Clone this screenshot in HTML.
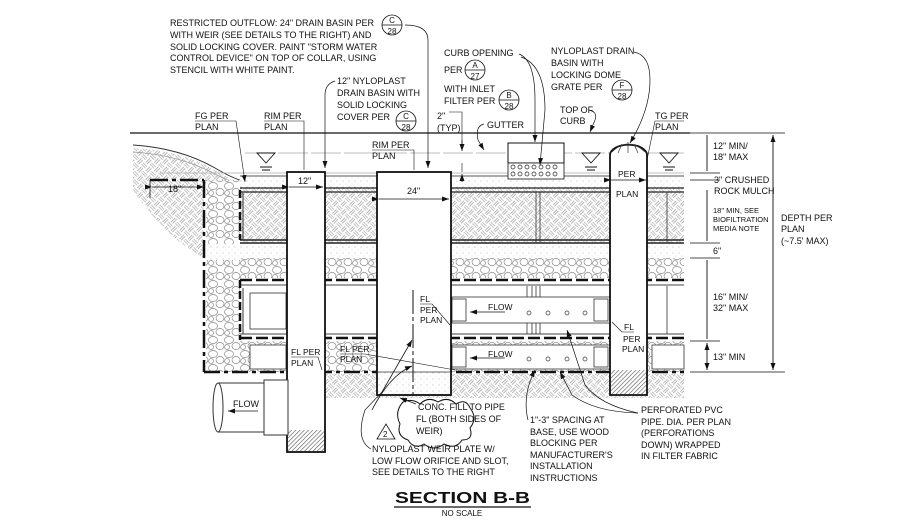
<!DOCTYPE html>
<html><head><meta charset="utf-8"><style>
html,body{margin:0;padding:0;background:#fff;}
svg{display:block;}
text{font-family:"Liberation Sans",sans-serif;fill:#111;}
</style></head><body>
<svg width="924" height="520" viewBox="0 0 924 520" xmlns="http://www.w3.org/2000/svg" font-size="9">
<defs>
<pattern id="weave" width="12" height="12" patternUnits="userSpaceOnUse" patternTransform="rotate(45)">
<rect width="12" height="12" fill="#fff"/>
<path d="M0 2H6M0 4H6M6 8H12M6 10H12M8 0V6M10 0V6M2 6V12M4 6V12" stroke="#888" stroke-width="0.6"/>
</pattern>
<pattern id="rock" width="16" height="14" patternUnits="userSpaceOnUse">
<rect width="16" height="14" fill="#fff"/>
<ellipse cx="5" cy="4" rx="4.5" ry="3.5" fill="none" stroke="#888" stroke-width="0.7"/>
<ellipse cx="12" cy="10" rx="4" ry="3.5" fill="none" stroke="#888" stroke-width="0.7"/>
<ellipse cx="3" cy="11" rx="2.5" ry="2.5" fill="none" stroke="#888" stroke-width="0.7"/>
</pattern>
<pattern id="dots" width="6" height="6" patternUnits="userSpaceOnUse">
<rect width="6" height="6" fill="#fff"/>
<circle cx="1" cy="1" r="0.5" fill="#999"/><circle cx="4" cy="4" r="0.4" fill="#aaa"/>
</pattern>
<pattern id="hatch" width="3" height="3" patternUnits="userSpaceOnUse" patternTransform="rotate(45)">
<rect width="3" height="3" fill="#fff"/><path d="M0 0V3" stroke="#555" stroke-width="1.2"/>
</pattern>
<marker id="ar" markerWidth="8" markerHeight="8" refX="7" refY="4" orient="auto" markerUnits="userSpaceOnUse"><path d="M0 1.5L7 4L0 6.5Z" fill="#111"/></marker>
</defs>

<!-- left native soil -->
<path d="M133 148 Q180 150 215 170 Q235 182 245 186 L240 186 L204 186 L204 258 Q170 240 140 200 L133 190Z" fill="url(#weave)"/>
<path d="M133 145 Q180 148 215 168 Q235 180 250 183" fill="none" stroke="#333" stroke-width="1"/>
<path d="M133 152 Q180 155 215 174 Q235 184 245 188" fill="none" stroke="#999" stroke-width="0.8"/>
<rect x="206" y="180" width="34" height="192" fill="url(#rock)"/>
<rect x="240" y="176" width="444" height="12" fill="url(#dots)"/>
<path d="M240 176H684" stroke="#555" stroke-width="1"/>
<rect x="240" y="188" width="444" height="55" fill="url(#weave)"/>
<path d="M240 188H684M240 192H684" stroke="#222" stroke-width="1.2"/>
<path d="M240 240H684M240 243H684" stroke="#222" stroke-width="1.5"/>
<rect x="206" y="244" width="478" height="16" fill="url(#dots)"/>
<rect x="240" y="258" width="444" height="20" fill="url(#rock)"/>
<path d="M240 280H684" stroke="#111" stroke-width="2.5" stroke-dasharray="12 4"/>
<path d="M240 285H684" stroke="#444" stroke-width="1"/>
<rect x="240" y="286" width="444" height="48" fill="#fff"/>
<path d="M240 334H684" stroke="#444" stroke-width="1"/>
<path d="M240 338H684" stroke="#111" stroke-width="2.5" stroke-dasharray="12 4"/>
<rect x="240" y="341" width="444" height="31" fill="url(#rock)"/>
<path d="M204 372H684" stroke="#111" stroke-width="2.5" stroke-dasharray="16 4 4 4"/>
<rect x="290" y="374" width="394" height="24" fill="url(#weave)"/>
<path d="M204 180V372" stroke="#111" stroke-width="2.5" stroke-dasharray="18 4 4 4"/>
<path d="M150 180H204" stroke="#111" stroke-width="2.5" stroke-dasharray="18 4 4 4"/>
<path d="M240 190V240M240 280V340" stroke="#111" stroke-width="2.5" stroke-dasharray="8 3"/>
<path d="M243 193V240M243 288V334" stroke="#333" stroke-width="1"/>
<path d="M152 187H204" stroke="#111" stroke-width="0.8" marker-start="url(#ar)" marker-end="url(#ar)"/>
<path d="M150 180V198" stroke="#111" stroke-width="0.8"/>
<text x="168" y="192">18"</text>
<path d="M536 192V243M540 192V243M527 286V334M532 286V334M536 286V334M540 286V334M667 192V243M667 286V334" stroke="#333" stroke-width="0.8"/>

<path d="M130 133H690" stroke="#111" stroke-width="1.2"/>
<path d="M245 153H684" stroke="#aaa" stroke-width="0.8" stroke-dasharray="30 3"/>
<path d="M160 173H684" stroke="#aaa" stroke-width="0.8"/>
<g stroke="#111" fill="none" stroke-width="0.9">
<path d="M257 153h18l-9 10z"/><path d="M260 167h12M262 170h8"/>
<path d="M582 153h18l-9 10z"/><path d="M585 167h12M587 170h8"/>
<path d="M660 153h18l-9 10z"/><path d="M663 167h12M665 170h8"/>
</g>
<rect x="508" y="143" width="56" height="20" fill="#fff" stroke="#111" stroke-width="1"/>
<rect x="508" y="163" width="56" height="16" fill="#fff" stroke="#111" stroke-width="0.8"/>
<g fill="none" stroke="#222" stroke-width="0.7">
<circle cx="513" cy="167" r="2"/><circle cx="520" cy="167" r="2"/><circle cx="527" cy="167" r="2"/><circle cx="534" cy="167" r="2"/><circle cx="541" cy="167" r="2"/><circle cx="548" cy="167" r="2"/><circle cx="555" cy="167" r="2"/>
<circle cx="513" cy="174" r="2"/><circle cx="520" cy="174" r="2"/><circle cx="527" cy="174" r="2"/><circle cx="534" cy="174" r="2"/><circle cx="541" cy="174" r="2"/><circle cx="548" cy="174" r="2"/><circle cx="555" cy="174" r="2"/>
</g>

<rect x="250" y="293" width="36" height="36" fill="#fff" stroke="#333" stroke-width="0.8"/>
<rect x="452" y="297" width="158" height="26" fill="#fff" stroke="#333" stroke-width="0.8"/>
<rect x="452" y="299" width="14" height="22" fill="#fff" stroke="#333" stroke-width="0.8"/>
<rect x="594" y="299" width="14" height="22" fill="#fff" stroke="#333" stroke-width="0.8"/>
<path d="M505 312H470" stroke="#111" stroke-width="0.8" marker-end="url(#ar)"/>
<text x="488" y="310" font-size="8.5">FLOW</text>
<g fill="none" stroke="#333" stroke-width="0.7"><circle cx="529" cy="313" r="2"/><circle cx="548" cy="313" r="2"/><circle cx="567" cy="313" r="2"/><circle cx="585" cy="313" r="2"/></g>
<circle cx="630" cy="311" r="10" fill="#fff" stroke="#333" stroke-width="0.8"/>
<rect x="452" y="345" width="158" height="24" fill="#fff" stroke="#333" stroke-width="0.8"/>
<rect x="452" y="347" width="14" height="20" fill="#fff" stroke="#333" stroke-width="0.8"/>
<rect x="594" y="347" width="14" height="20" fill="#fff" stroke="#333" stroke-width="0.8"/>
<path d="M505 358H470" stroke="#111" stroke-width="0.8" marker-end="url(#ar)"/>
<text x="488" y="357" font-size="8.5">FLOW</text>
<g fill="none" stroke="#333" stroke-width="0.7"><circle cx="529" cy="359" r="2"/><circle cx="548" cy="359" r="2"/><circle cx="567" cy="359" r="2"/><circle cx="585" cy="359" r="2"/></g>
<rect x="652" y="345" width="32" height="24" fill="#fff" stroke="#333" stroke-width="0.8"/>
<rect x="250" y="345" width="36" height="24" fill="#fff" stroke="#333" stroke-width="0.8"/>

<rect x="287" y="172" width="38" height="280" fill="#fff" stroke="#111" stroke-width="1.8"/>
<rect x="288" y="430" width="36" height="21" fill="url(#hatch)"/>
<path d="M289 187H323" stroke="#111" stroke-width="0.8" marker-start="url(#ar)" marker-end="url(#ar)"/>
<text x="298" y="184">12"</text>
<rect x="377" y="172" width="74" height="223" fill="#fff" stroke="#111" stroke-width="1.8"/>
<rect x="378" y="372" width="72" height="22" fill="url(#dots)"/>
<path d="M378 372H450" stroke="#333" stroke-width="0.8"/>
<path d="M379 199H449" stroke="#111" stroke-width="0.8" marker-start="url(#ar)" marker-end="url(#ar)"/>
<text x="407" y="194">24"</text>
<path d="M413 290V395" stroke="#111" stroke-width="1" stroke-dasharray="24 3 4 3"/>
<text x="420" y="302" font-size="8.5">FL</text>
<text x="420" y="313" font-size="8.5">PER</text>
<text x="420" y="323" font-size="8.5">PLAN</text>
<path d="M420 304H432L450 325" fill="none" stroke="#111" stroke-width="0.6"/>
<path d="M382 392L412 340" stroke="#111" stroke-width="0.8" marker-end="url(#ar)"/>
<path d="M372 410Q390 375 412 366" fill="none" stroke="#111" stroke-width="0.8" marker-end="url(#ar)"/>
<path d="M610 395V155A18 10 0 0 1 647 155V395Z" fill="#fff" stroke="#111" stroke-width="1.8"/>
<path d="M612 152Q628 136 645 152M618 153L622 144M628 153V142M638 153L634 144" fill="none" stroke="#333" stroke-width="0.7"/>
<rect x="611" y="370" width="35" height="24" fill="url(#hatch)"/>
<path d="M611 180H646" stroke="#111" stroke-width="0.8" marker-start="url(#ar)" marker-end="url(#ar)"/>
<text x="618" y="177" font-size="8.5">PER</text>
<text x="616" y="197" font-size="8.5">PLAN</text>
<text x="624" y="330" font-size="8.5">FL</text>
<text x="623" y="342" font-size="8.5">PER</text>
<text x="622" y="352" font-size="8.5">PLAN</text>
<path d="M622 332H634M612 322L622 332" fill="none" stroke="#111" stroke-width="0.6"/>

<path d="M218 383H275V432H218" fill="#fff" stroke="#333" stroke-width="1"/>
<ellipse cx="218" cy="407.5" rx="5" ry="24.5" fill="#fff" stroke="#333" stroke-width="1"/>
<rect x="264" y="380" width="24" height="55" fill="#fff" stroke="#333" stroke-width="1"/>
<path d="M258 411H228" stroke="#111" stroke-width="0.8" marker-end="url(#ar)"/>
<text x="233" y="407">FLOW</text>
<text x="291" y="355" font-size="8.5">FL PER</text>
<text x="291" y="366" font-size="8.5">PLAN</text>
<path d="M291 357H318L322 370" fill="none" stroke="#111" stroke-width="0.6"/>
<text x="340" y="352" font-size="8.5">FL PER</text>
<text x="340" y="362" font-size="8.5">PLAN</text>
<path d="M340 354H365L455 370" fill="none" stroke="#111" stroke-width="0.6"/>

<g stroke="#111" stroke-width="0.7">
<path d="M690 133H720M690 173H720M690 180H720M690 243H720M690 258H720M690 341H720M690 372H785M690 133H785"/>
<path d="M707 135V171M707 190V241M707 260V339M707 343V370" marker-end="url(#ar)"/>
<path d="M707 171V135M707 241V190M707 339V260M707 370V343" marker-end="url(#ar)"/>
<path d="M773 135V370" marker-end="url(#ar)"/><path d="M773 370V135" marker-end="url(#ar)"/>
</g>
<text x="713" y="149">12" MIN/</text><text x="713" y="160">18" MAX</text>
<text x="714" y="183">3" CRUSHED</text><text x="714" y="194">ROCK MULCH</text>
<text x="713" y="213" font-size="7.5">18" MIN, SEE</text><text x="713" y="222" font-size="7.5">BIOFILTRATION</text><text x="713" y="231" font-size="7.5">MEDIA NOTE</text>
<text x="713" y="254">6"</text>
<text x="713" y="300">16" MIN/</text><text x="713" y="311">32" MAX</text>
<text x="713" y="360">13" MIN</text>
<text x="781" y="221">DEPTH PER</text><text x="781" y="232">PLAN</text><text x="781" y="244">(~7.5' MAX)</text>

<text x="170" y="26">RESTRICTED OUTFLOW: 24" DRAIN BASIN PER</text>
<text x="170" y="38">WITH WEIR (SEE DETAILS TO THE RIGHT) AND</text>
<text x="170" y="50">SOLID LOCKING COVER. PAINT "STORM WATER</text>
<text x="170" y="61">CONTROL DEVICE" ON TOP OF COLLAR, USING</text>
<text x="170" y="73">STENCIL WITH WHITE PAINT.</text>
<g fill="#fff" stroke="#111" stroke-width="0.8">
<circle cx="392" cy="25" r="10"/><circle cx="406" cy="121" r="10"/><circle cx="475" cy="70" r="10"/><circle cx="509" cy="100" r="10"/><circle cx="622" cy="90" r="10"/>
</g>
<g stroke="#111" stroke-width="0.7"><path d="M382 25H402M396 121H416M465 70H485M499 100H519M612 90H632"/></g>
<g font-size="8" text-anchor="middle">
<text x="392" y="23">C</text><text x="392" y="34">28</text>
<text x="406" y="119">C</text><text x="406" y="130">28</text>
<text x="475" y="68">A</text><text x="475" y="79">27</text>
<text x="509" y="98">B</text><text x="509" y="109">28</text>
<text x="622" y="88">F</text><text x="622" y="99">28</text>
</g>
<path d="M405 25Q428 25 428 40V168" fill="none" stroke="#111" stroke-width="0.7" marker-end="url(#ar)"/>
<text x="337" y="84">12" NYLOPLAST</text>
<text x="337" y="96">DRAIN BASIN WITH</text>
<text x="337" y="108">SOLID LOCKING</text>
<text x="337" y="120">COVER PER</text>
<path d="M335 81Q325 84 325 95V168" fill="none" stroke="#111" stroke-width="0.7" marker-end="url(#ar)"/>
<text x="444" y="56">CURB OPENING</text>
<text x="444" y="73">PER</text>
<text x="444" y="92">WITH INLET</text>
<text x="444" y="104">FILTER PER</text>
<path d="M519 54Q535 60 535 100L535 142" fill="none" stroke="#111" stroke-width="0.7" marker-end="url(#ar)"/>
<path d="M521 57Q545 65 545 110L540 165" fill="none" stroke="#111" stroke-width="0.7" marker-end="url(#ar)"/>
<text x="551" y="54">NYLOPLAST DRAIN</text>
<text x="551" y="66">BASIN WITH</text>
<text x="551" y="78">LOCKING DOME</text>
<text x="551" y="90">GRATE PER</text>
<path d="M634 52Q650 55 650 80Q650 110 630 143" fill="none" stroke="#111" stroke-width="0.7" marker-end="url(#ar)"/>
<text x="560" y="113">TOP OF</text>
<text x="560" y="124">CURB</text>
<path d="M589 110Q598 112 595 120L590 132" fill="none" stroke="#111" stroke-width="0.7" marker-end="url(#ar)"/>
<text x="655" y="119">TG PER</text>
<text x="655" y="130">PLAN</text>
<path d="M655 121H684M655 121L647 160" fill="none" stroke="#111" stroke-width="0.6"/>
<text x="195" y="119">FG PER</text><text x="195" y="130">PLAN</text>
<path d="M195 121H236L245 182" fill="none" stroke="#111" stroke-width="0.6" marker-end="url(#ar)"/>
<text x="264" y="119">RIM PER</text><text x="264" y="130">PLAN</text>
<path d="M264 121H304V170" fill="none" stroke="#111" stroke-width="0.6"/>
<text x="372" y="148">RIM PER</text><text x="372" y="159">PLAN</text>
<path d="M372 150H414V170" fill="none" stroke="#111" stroke-width="0.6"/>
<text x="437" y="119">2"</text><text x="437" y="131">(TYP)</text>
<path d="M449 112H462V150M462 163V172" stroke="#111" stroke-width="0.6" fill="none"/>
<path d="M462 140V151" stroke="#111" stroke-width="0.7" marker-end="url(#ar)"/>
<path d="M462 182V174" stroke="#111" stroke-width="0.7" marker-end="url(#ar)"/>
<text x="487" y="128">GUTTER</text>
<path d="M484 124Q475 126 478 140L484 150" fill="none" stroke="#111" stroke-width="0.7" marker-end="url(#ar)"/>

<path d="M403 402Q412 398 420 404Q428 396 438 402Q448 396 456 404Q466 398 470 408Q478 418 470 428Q474 440 462 440Q456 450 444 444Q434 452 424 444Q414 450 408 440Q396 436 400 424Q394 412 403 402Z" fill="#fff" stroke="#111" stroke-width="1"/>
<text x="418" y="410">CONC. FILL TO PIPE</text>
<text x="416" y="422">FL (BOTH SIDES OF</text>
<text x="416" y="434">WEIR)</text>
<path d="M416 404L400 398" stroke="#111" stroke-width="0.7" marker-end="url(#ar)"/>
<path d="M386 424L377 439H395Z" fill="#fff" stroke="#111" stroke-width="0.8"/>
<text x="383" y="437" font-size="8">2</text>
<text x="372" y="452">NYLOPLAST WEIR PLATE W/</text>
<text x="372" y="464">LOW FLOW ORIFICE AND SLOT,</text>
<text x="372" y="475">SEE DETAILS TO THE RIGHT</text>
<path d="M371 449Q355 440 365 410L382 392" fill="none" stroke="#111" stroke-width="0.7"/>
<text x="530" y="423">1"-3" SPACING AT</text>
<text x="530" y="435">BASE, USE WOOD</text>
<text x="530" y="446">BLOCKING PER</text>
<text x="530" y="458">MANUFACTURER'S</text>
<text x="530" y="469">INSTALLATION</text>
<text x="530" y="481">INSTRUCTIONS</text>
<path d="M528 420Q522 395 535 370" fill="none" stroke="#111" stroke-width="0.7" marker-end="url(#ar)"/>
<text x="641" y="413">PERFORATED PVC</text>
<text x="641" y="425">PIPE. DIA. PER PLAN</text>
<text x="641" y="436">(PERFORATIONS</text>
<text x="641" y="448">DOWN) WRAPPED</text>
<text x="641" y="459">IN FILTER FABRIC</text>
<path d="M638 413Q600 405 585 385L567 330" fill="none" stroke="#111" stroke-width="0.7" marker-end="url(#ar)"/>
<path d="M638 413Q595 412 572 395L560 372" fill="none" stroke="#111" stroke-width="0.7" marker-end="url(#ar)"/>

<text x="395" y="503" font-size="16" font-weight="bold" textLength="135" lengthAdjust="spacingAndGlyphs">SECTION B-B</text>
<path d="M394 507H531" stroke="#111" stroke-width="1.2"/>
<text x="462" y="516" text-anchor="middle" font-size="8">NO SCALE</text>
</svg>
</body></html>
